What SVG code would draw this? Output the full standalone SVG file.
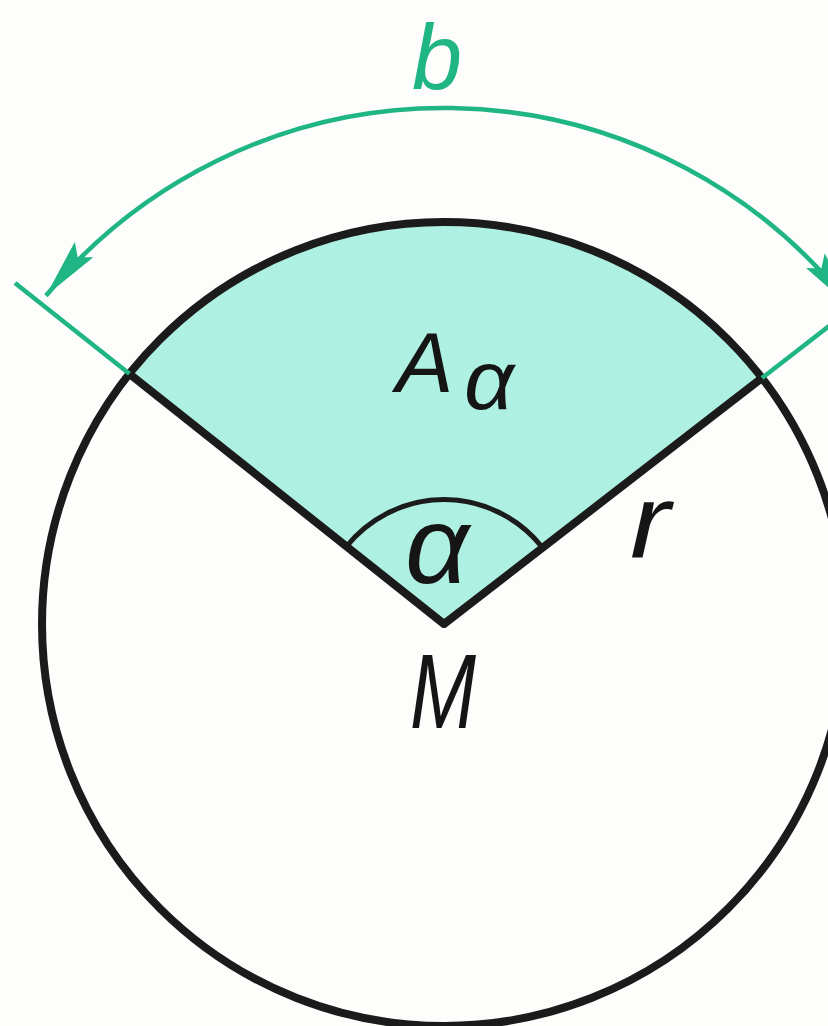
<svg xmlns="http://www.w3.org/2000/svg" width="828" height="1026" viewBox="0 0 828 1026">
<style>
.ink{fill:none;stroke:#1b1b1b;stroke-width:8;stroke-linejoin:round;stroke-linecap:round}
.dim{fill:none;stroke:#1fb585;stroke-width:4.5}
.lbl{font-family:"Liberation Sans",Arial,sans-serif;font-style:italic;fill:#151515}
.glbl{font-family:"Liberation Sans",Arial,sans-serif;font-style:italic;fill:#1fb585}
</style>
<defs>
<marker id="arr" viewBox="0 0 30 12" refX="30" refY="6" markerUnits="userSpaceOnUse" markerWidth="60" markerHeight="24" orient="auto-start-reverse">
<path d="M0,0 L30,6 L0,12 L5,6 Z" fill="#1fb585"/>
</marker>
</defs>
<rect width="828" height="1026" fill="#fdfdfb"/>
<g id="sector">
<path d="M444 624 L129.4 373.8 A402 402 0 0 1 762 378 Z" fill="#aef0e1"/>
</g>
<g id="circle">
<circle cx="444" cy="624" r="402" class="ink"/>
</g>
<g id="connectors">
<path class="ink" d="M129.4 373.8 L444 624 L762 378"/>
<path class="ink" style="stroke-width:5" d="M346 547 A125 125 0 0 1 542 547"/>
<path class="dim" d="M129.4 373.8 L15 283"/>
<path class="dim" d="M762 378 L877 289"/>
<path class="dim" d="M45.9 295.8 A516 516 0 0 1 852 308" marker-start="url(#arr)" marker-end="url(#arr)"/>
</g>
<g id="labels">
<text class="glbl" x="412" y="89" font-size="92" textLength="50" lengthAdjust="spacingAndGlyphs">b</text>
<text class="lbl" x="396" y="392" font-size="86">A</text>
<text class="lbl" x="464" y="409" font-size="84" textLength="50" lengthAdjust="spacingAndGlyphs">α</text>
<text class="lbl" x="405" y="583" font-size="110" textLength="64" lengthAdjust="spacingAndGlyphs">α</text>
<text class="lbl" x="630" y="557" font-size="104" textLength="40" lengthAdjust="spacingAndGlyphs">r</text>
<text class="lbl" x="410" y="728" font-size="106" textLength="66" lengthAdjust="spacingAndGlyphs">M</text>
</g>
</svg>
